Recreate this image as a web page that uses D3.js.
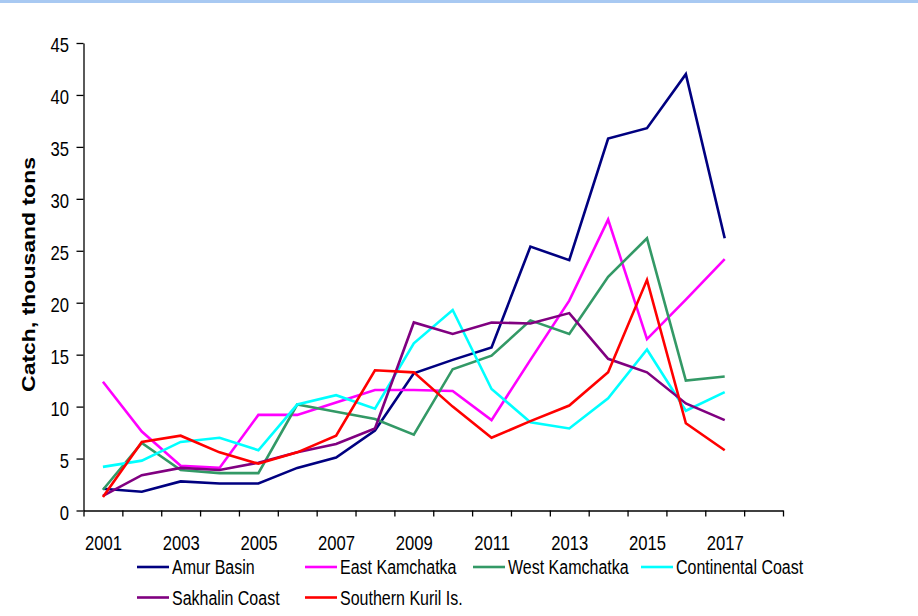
<!DOCTYPE html>
<html>
<head>
<meta charset="utf-8">
<script src="https://cdn.jsdelivr.net/npm/d3@7/dist/d3.min.js"></script>
<style>
  html, body { margin: 0; padding: 0; background: #fff; }
  svg { display: block; font-family: "Liberation Sans", Arial, sans-serif; }
</style>
</head>
<body>
<svg id="chart" width="918" height="616"></svg>
<script>
// Catch by fishing region, thousand tons, 2001–2017
const years = d3.range(2001, 2018);
const yearLabels = ["2001", "2003", "2005", "2007", "2009", "2011", "2013", "2015", "2017"];
const yTicks = [0, 5, 10, 15, 20, 25, 30, 35, 40, 45];

const seriesNames = ["Amur Basin", "East Kamchatka", "West Kamchatka", "Continental Coast", "Sakhalin Coast", "Southern Kuril Is."];
const seriesColors = ["#000080", "#FF00FF", "#339966", "#00FFFF", "#800080", "#FF0000"];

const amurBasin        = [2.1, 1.8, 2.8, 2.6, 2.6, 4.1, 5.1, 7.7, 13.2, 14.5, 15.7, 25.4, 24.1, 35.8, 36.8, 42.0, 26.2];
const eastKamchatka    = [12.4, 7.6, 4.3, 4.1, 9.2, 9.2, 10.4, 11.6, 11.6, 11.5, 8.7, 14.5, 20.2, 28.0, 16.5, 20.3, 24.2];
const westKamchatka    = [2.0, 6.5, 3.9, 3.6, 3.6, 10.2, 9.5, 8.8, 7.3, 13.6, 14.9, 18.3, 17.0, 22.5, 26.2, 12.5, 12.9];
const continentalCoast = [4.2, 4.8, 6.6, 7.0, 5.8, 10.2, 11.1, 9.8, 16.1, 19.3, 11.7, 8.5, 7.9, 10.8, 15.5, 9.6, 11.4];
const sakhalinCoast    = [1.4, 3.4, 4.1, 3.9, 4.6, 5.6, 6.4, 7.9, 18.1, 17.0, 18.1, 18.0, 19.0, 14.6, 13.3, 10.3, 8.7];
const southernKuril    = [1.3, 6.6, 7.2, 5.6, 4.5, 5.6, 7.2, 13.5, 13.3, 10.0, 7.0, 8.6, 10.1, 13.3, 22.2, 8.4, 5.8];

const seriesValues = [amurBasin, eastKamchatka, westKamchatka, continentalCoast, sakhalinCoast, southernKuril];

const svg = d3.select("#chart");

// thin light-blue band along the top edge
svg.append("rect").attr("x", 0).attr("y", 0).attr("width", 918).attr("height", 3)
  .attr("fill", "#A8C9F2");

// category axis spans 2001–2018, points sit in the middle of each category
const x = d3.scaleLinear().domain([2000.5, 2018.5]).range([83.5, 783]);
const y = d3.scaleLinear().domain([0, 45]).range([510.5, 43]);

const narrow = "scale(0.8,1)";

// x axis: tick marks on category boundaries
const xTickAxis = d3.axisBottom(x)
  .tickValues(d3.range(2000.5, 2019, 1))
  .tickSize(6).tickSizeOuter(0).tickFormat("");
const gx = svg.append("g").attr("transform", `translate(0,${y(0)})`).call(xTickAxis);
gx.select(".domain").attr("stroke", "#000").attr("stroke-width", 1.3);
gx.selectAll(".tick line").attr("stroke", "#000").attr("stroke-width", 1.3);

// x labels on every other year
const xLabelAxis = d3.axisBottom(x)
  .tickValues(yearLabels.map(Number))
  .tickSize(0).tickFormat((d) => String(d));
const gxl = svg.append("g").attr("transform", `translate(0,${y(0)})`).call(xLabelAxis);
gxl.select(".domain").remove();
gxl.selectAll(".tick text")
  .attr("y", null).attr("dy", null)
  .attr("transform", `translate(0,39.5) ${narrow}`)
  .attr("font-size", "20.8px").attr("font-family", "Liberation Sans, Arial, sans-serif")
  .attr("fill", "#000");

// y axis
const yAxis = d3.axisLeft(y).tickValues(yTicks).tickSize(7).tickSizeOuter(0);
const gy = svg.append("g").attr("transform", `translate(${x(2000.5)},0)`).call(yAxis);
gy.select(".domain").attr("stroke", "#000").attr("stroke-width", 1.3);
gy.selectAll(".tick line").attr("stroke", "#000").attr("stroke-width", 1.3);
gy.selectAll(".tick text")
  .attr("x", null).attr("dy", null)
  .attr("transform", `translate(-14.5,8.8) ${narrow}`)
  .attr("font-size", "20.8px").attr("font-family", "Liberation Sans, Arial, sans-serif")
  .attr("fill", "#000");

// y axis title
svg.append("text")
  .attr("transform", "translate(34.5,274.5) rotate(-90) scale(1,0.8)")
  .attr("text-anchor", "middle")
  .attr("font-size", "23px").attr("font-weight", "bold")
  .attr("fill", "#000")
  .text("Catch, thousand tons");

// series lines
const line = d3.line().x((d, i) => x(years[i])).y((d) => y(d));
svg.append("g").selectAll("path")
  .data(seriesValues)
  .join("path")
  .attr("d", line)
  .attr("fill", "none")
  .attr("stroke", (d, i) => seriesColors[i])
  .attr("stroke-width", 2.6)
  .attr("stroke-linejoin", "miter");

// legend: four entries on the first row, two on the second
const legend = svg.append("g");
seriesNames.forEach((name, i) => {
  const col = i % 4, row = Math.floor(i / 4);
  const lx = 137 + col * 168, ly = 567 + row * 30.5;
  const item = legend.append("g").attr("transform", `translate(${lx},${ly})`);
  item.append("line").attr("x1", 0).attr("x2", 32).attr("y1", 0).attr("y2", 0)
    .attr("stroke", seriesColors[i]).attr("stroke-width", 2.6);
  item.append("text")
    .attr("transform", `translate(35,7.2) ${narrow}`)
    .attr("font-size", "20px").attr("fill", "#000")
    .text(name);
});
</script>
</body>
</html>
